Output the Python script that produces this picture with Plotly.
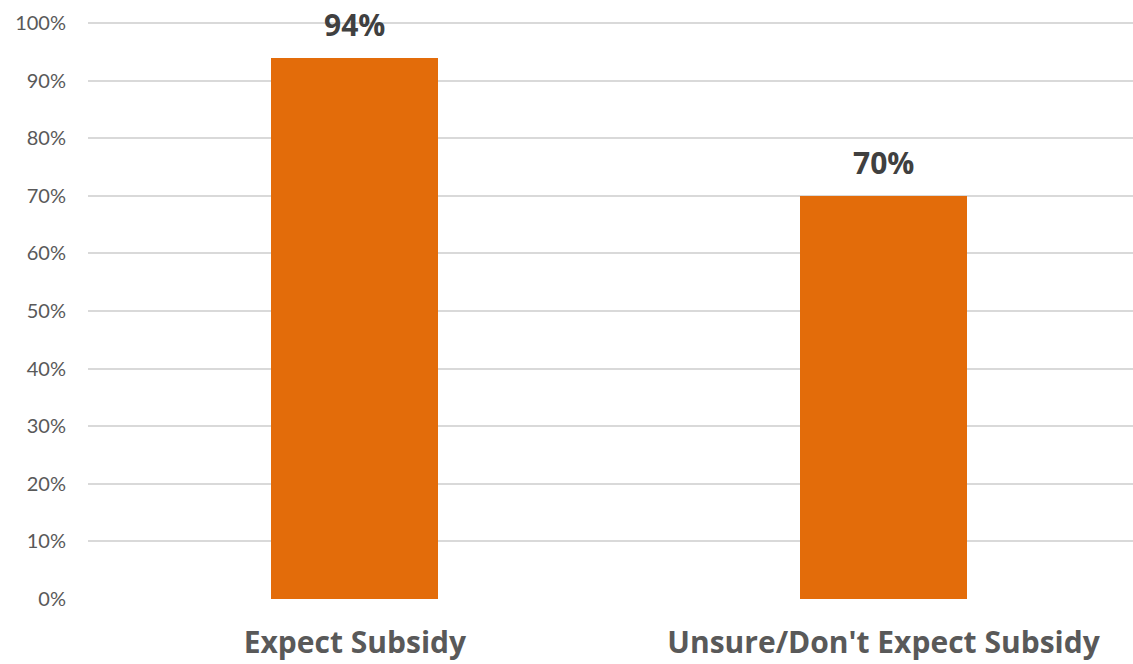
import plotly.graph_objects as go

# Share of respondents by subsidy expectation
categories = ["Expect Subsidy", "Unsure/Don't Expect Subsidy"]
values = [0.94, 0.70]
value_labels = ["94%", "70%"]
y_ticks = [0, 0.1, 0.2, 0.3, 0.4, 0.5, 0.6, 0.7, 0.8, 0.9, 1.0]
y_tick_labels = ["0%", "10%", "20%", "30%", "40%", "50%", "60%", "70%", "80%", "90%", "100%"]

BAR_COLOR = "#E36C0A"

fig = go.Figure()
fig.add_trace(go.Bar(
    x=list(range(len(categories))),
    y=values,
    width=0.316,
    marker=dict(color=BAR_COLOR, line=dict(width=0)),
    hoverinfo="skip",
))

for i, (v, lab) in enumerate(zip(values, value_labels)):
    fig.add_annotation(
        x=i, y=v, text=f"<b>{lab}</b>", showarrow=False,
        yanchor="bottom", yshift=11,
        font=dict(family="Open Sans", size=30, color="#404040"),
    )

fig.update_layout(
    width=1133, height=664,
    margin=dict(l=88, r=0, t=22, b=65),
    paper_bgcolor="white", plot_bgcolor="white",
    showlegend=False,
    bargap=0,
    xaxis=dict(
        range=[-0.505, 1.472],
        tickmode="array",
        tickvals=list(range(len(categories))),
        ticktext=[f"<b>{c}</b>" for c in categories],
        tickfont=dict(family="Open Sans", size=30, color="#595959"),
        showgrid=False, zeroline=False, showline=False,
        ticks="", ticklabelstandoff=23, automargin=False,
    ),
    yaxis=dict(
        range=[0, 1.0018],
        tickmode="array",
        tickvals=y_ticks,
        ticktext=y_tick_labels,
        tickfont=dict(family="Lato", size=20, color="#595959"),
        showgrid=True, gridcolor="#D9D9D9", gridwidth=1.5,
        zeroline=False, showline=False,
        ticks="", ticklabelstandoff=21, automargin=False,
    ),
)

fig.write_html("out.html")
